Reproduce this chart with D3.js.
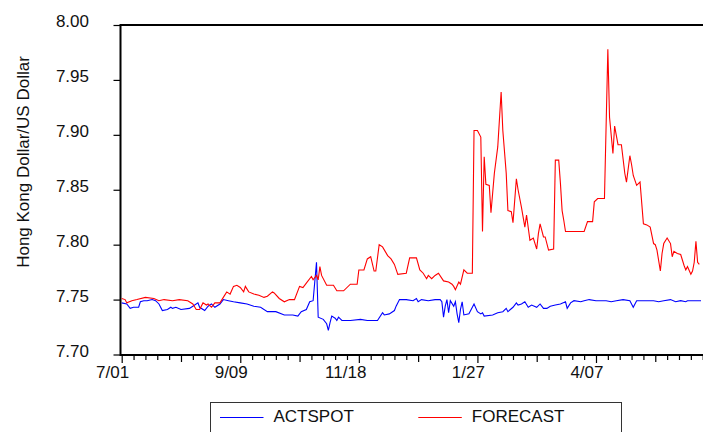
<!DOCTYPE html>
<html>
<head>
<meta charset="utf-8">
<script src="https://cdn.jsdelivr.net/npm/d3@7"></script>
<style>
  body { margin: 0; background: #fff; }
  svg { display: block; font-family: "Liberation Sans", Arial, sans-serif; }
</style>
</head>
<body>
<div class="chart"></div>
<script>
// days counted from 1997-07-01
const actDays = [0, 3, 5, 7, 10, 11, 13, 15, 18, 20, 22, 24, 27, 29, 30, 32, 35, 40, 42, 45, 46, 49, 51, 53, 55, 58, 60, 63, 66, 70, 74, 78, 82, 86, 91, 96, 101, 104, 106, 109, 111, 113, 115, 116, 119, 121, 122, 123, 124, 126, 127, 128, 130, 135, 141, 145, 151, 154, 155, 158, 161, 162, 164, 168, 172, 174, 175, 177, 181, 185, 188, 189, 190, 191, 192, 193, 194, 196, 197, 198, 199, 200, 201, 202, 205, 207, 208, 210, 212, 213, 214, 219, 222, 225, 227, 228, 231, 233, 234, 236, 238, 240, 242, 245, 247, 249, 251, 253, 256, 259, 262, 263, 265, 267, 271, 273, 276, 280, 286, 289, 292, 296, 300, 302, 304, 308, 314, 317, 320, 324, 327, 330, 333, 334, 337, 342]
const actspot = [7.747, 7.746, 7.742, 7.743, 7.743, 7.748, 7.749, 7.749, 7.750, 7.749, 7.746, 7.740, 7.741, 7.743, 7.742, 7.743, 7.741, 7.742, 7.744, 7.747, 7.743, 7.740, 7.744, 7.746, 7.743, 7.746, 7.750, 7.749, 7.748, 7.747, 7.746, 7.744, 7.743, 7.739, 7.739, 7.736, 7.736, 7.735, 7.739, 7.741, 7.748, 7.749, 7.784, 7.734, 7.732, 7.728, 7.722, 7.729, 7.735, 7.733, 7.731, 7.734, 7.731, 7.731, 7.732, 7.731, 7.731, 7.738, 7.736, 7.737, 7.740, 7.744, 7.750, 7.750, 7.749, 7.751, 7.748, 7.750, 7.749, 7.750, 7.750, 7.748, 7.734, 7.744, 7.750, 7.738, 7.749, 7.744, 7.748, 7.737, 7.729, 7.741, 7.748, 7.736, 7.737, 7.743, 7.746, 7.739, 7.737, 7.738, 7.735, 7.736, 7.738, 7.739, 7.742, 7.739, 7.743, 7.747, 7.745, 7.746, 7.748, 7.743, 7.745, 7.743, 7.746, 7.742, 7.742, 7.744, 7.745, 7.746, 7.748, 7.742, 7.747, 7.749, 7.748, 7.749, 7.750, 7.749, 7.749, 7.748, 7.749, 7.750, 7.749, 7.743, 7.749, 7.749, 7.749, 7.748, 7.749, 7.750, 7.748, 7.749, 7.748, 7.749, 7.749, 7.749]

const fcDays = [0, 2, 3, 6, 9, 14, 19, 22, 25, 30, 34, 39, 42, 44, 46, 48, 50, 51, 53, 55, 58, 60, 62, 64, 66, 68, 70, 72, 73, 75, 78, 81, 84, 86, 89, 90, 93, 96, 99, 102, 105, 107, 109, 112, 113, 115, 116, 117, 118, 121, 125, 127, 131, 135, 139, 140, 143, 145, 147, 149, 150, 152, 154, 157, 159, 161, 163, 168, 170, 174, 176, 178, 180, 181, 183, 185, 187, 190, 193, 195, 196, 197, 199, 200, 202, 204, 207, 208, 210, 212, 213, 214, 215, 217, 218, 220, 222, 224, 225, 227, 228, 230, 231, 233, 234, 236, 238, 239, 241, 243, 245, 246, 247, 249, 250, 252, 255, 256, 258, 259, 260, 261, 262, 273, 275, 278, 279, 281, 285, 287, 288, 290, 291, 293, 295, 297, 298, 300, 301, 302, 304, 306, 308, 310, 312, 314, 315, 316, 318, 319, 320, 322, 324, 325, 326, 328, 330, 332, 333, 334, 336, 337, 338, 339, 340, 341]
const forecast = [7.751, 7.750, 7.747, 7.749, 7.750, 7.752, 7.751, 7.749, 7.750, 7.749, 7.750, 7.749, 7.746, 7.741, 7.741, 7.747, 7.745, 7.746, 7.743, 7.747, 7.747, 7.752, 7.757, 7.755, 7.762, 7.763, 7.761, 7.757, 7.762, 7.757, 7.755, 7.754, 7.752, 7.753, 7.757, 7.756, 7.751, 7.748, 7.750, 7.750, 7.762, 7.761, 7.765, 7.771, 7.768, 7.772, 7.768, 7.780, 7.772, 7.763, 7.763, 7.758, 7.758, 7.764, 7.764, 7.777, 7.777, 7.787, 7.789, 7.776, 7.776, 7.800, 7.798, 7.790, 7.787, 7.782, 7.773, 7.774, 7.788, 7.788, 7.777, 7.774, 7.769, 7.772, 7.769, 7.772, 7.774, 7.767, 7.766, 7.764, 7.762, 7.759, 7.766, 7.764, 7.777, 7.774, 7.774, 7.904, 7.904, 7.898, 7.812, 7.880, 7.855, 7.854, 7.829, 7.865, 7.889, 7.939, 7.904, 7.865, 7.831, 7.830, 7.820, 7.860, 7.850, 7.834, 7.816, 7.827, 7.804, 7.806, 7.796, 7.810, 7.819, 7.807, 7.807, 7.795, 7.796, 7.877, 7.877, 7.856, 7.831, 7.822, 7.812, 7.812, 7.821, 7.821, 7.839, 7.842, 7.842, 7.978, 7.916, 7.883, 7.908, 7.891, 7.891, 7.865, 7.857, 7.881, 7.873, 7.863, 7.854, 7.857, 7.819, 7.818, 7.816, 7.801, 7.800, 7.795, 7.776, 7.792, 7.801, 7.806, 7.801, 7.789, 7.794, 7.792, 7.791, 7.781, 7.777, 7.780, 7.773, 7.776, 7.784, 7.803, 7.784, 7.782]

const yTicks = [7.70, 7.75, 7.80, 7.85, 7.90, 7.95, 8.00]
const seriesNames = ['ACTSPOT', 'FORECAST']
const seriesColors = ['#0000ff', '#ff0000']

const start = new Date(1997, 6, 1)
const toDate = d => d3.timeDay.offset(start, d)

const svgWidth = 703, svgHeight = 432
const plot = { left: 120.5, top: 25, right: 704.4, bottom: 355 }

const svg = d3.select('div.chart')
    .append('svg')
    .attr('width', svgWidth)
    .attr('height', svgHeight)

const x = d3.scaleTime()
    .domain([start, toDate(344)])
    .range([121.7, 704.4])

const y = d3.scaleLinear()
    .domain([7.70, 8.00])
    .range([354.5, 25])

// y axis
const yAxis = svg.append('g')
    .attr('transform', 'translate(' + plot.left + ',0)')
    .call(d3.axisLeft(y).tickValues(yTicks).tickSize(7).tickPadding(24.5).tickFormat(d3.format('.2f')))
yAxis.select('.domain').remove()
yAxis.selectAll('line').attr('stroke', '#000').attr('stroke-width', 1.2)
yAxis.selectAll('text')
    .attr('dy', 1.5)
    .style('font-size', '17px')
    .attr('fill', '#111')

// x axis: weekly ticks, longer every 5 weeks, labels every 10 weeks
const weeks = d3.range(0, 344, 7)
const xAxis = svg.append('g')
    .attr('transform', 'translate(0,' + plot.bottom + ')')
    .call(d3.axisBottom(x)
        .tickValues(weeks.map(toDate))
        .tickSize(5)
        .tickFormat((d, i) => i % 10 == 0 ? d3.timeFormat('%-m/%d')(d) : ''))
xAxis.select('.domain').remove()
xAxis.selectAll('line')
    .attr('stroke', '#000')
    .attr('stroke-width', 1.2)
    .attr('y2', (d, i) => i % 10 == 0 ? 8 : (i % 5 == 0 ? 7 : 5))
xAxis.selectAll('text')
    .attr('text-anchor', 'end')
    .attr('x', 7)
    .attr('y', 23)
    .attr('dy', 0)
    .style('font-size', '17px')
    .attr('fill', '#111')

// frame
svg.append('path')
    .attr('d', 'M' + plot.right + ',' + plot.top + 'H' + plot.left + 'V' + plot.bottom + 'H' + plot.right)
    .attr('fill', 'none')
    .attr('stroke', '#000')
    .attr('stroke-width', 2)

// axis title
svg.append('text')
    .attr('transform', 'translate(28.5,162) rotate(-90)')
    .attr('text-anchor', 'middle')
    .style('font-size', '17px')
    .attr('fill', '#111')
    .text('Hong Kong Dollar/US Dollar')

// lines
const line = d3.line()
    .x(d => x(toDate(d[0])))
    .y(d => y(d[1]))

const series = [d3.zip(actDays, actspot), d3.zip(fcDays, forecast)]

svg.append('g')
    .selectAll('path')
    .data(series)
    .enter()
    .append('path')
    .attr('d', line)
    .attr('fill', 'none')
    .attr('stroke', (d, i) => seriesColors[i])
    .attr('stroke-width', 1.1)

// legend
const legend = svg.append('g')
legend.append('rect')
    .attr('x', 210.5)
    .attr('y', 402.5)
    .attr('width', 411)
    .attr('height', 60)
    .attr('fill', '#fff')
    .attr('stroke', '#333')
    .attr('stroke-width', 1)

const legendX = [220, 418.3]
seriesNames.forEach(function (name, i) {
    legend.append('line')
        .attr('x1', legendX[i])
        .attr('x2', legendX[i] + 43.5)
        .attr('y1', 417.5)
        .attr('y2', 417.5)
        .attr('stroke', seriesColors[i])
        .attr('stroke-width', 1.1)
    legend.append('text')
        .attr('x', legendX[i] + 53.5)
        .attr('y', 421.7)
        .style('font-size', '17px')
        .attr('fill', '#111')
        .text(name)
})
</script>
</body>
</html>
